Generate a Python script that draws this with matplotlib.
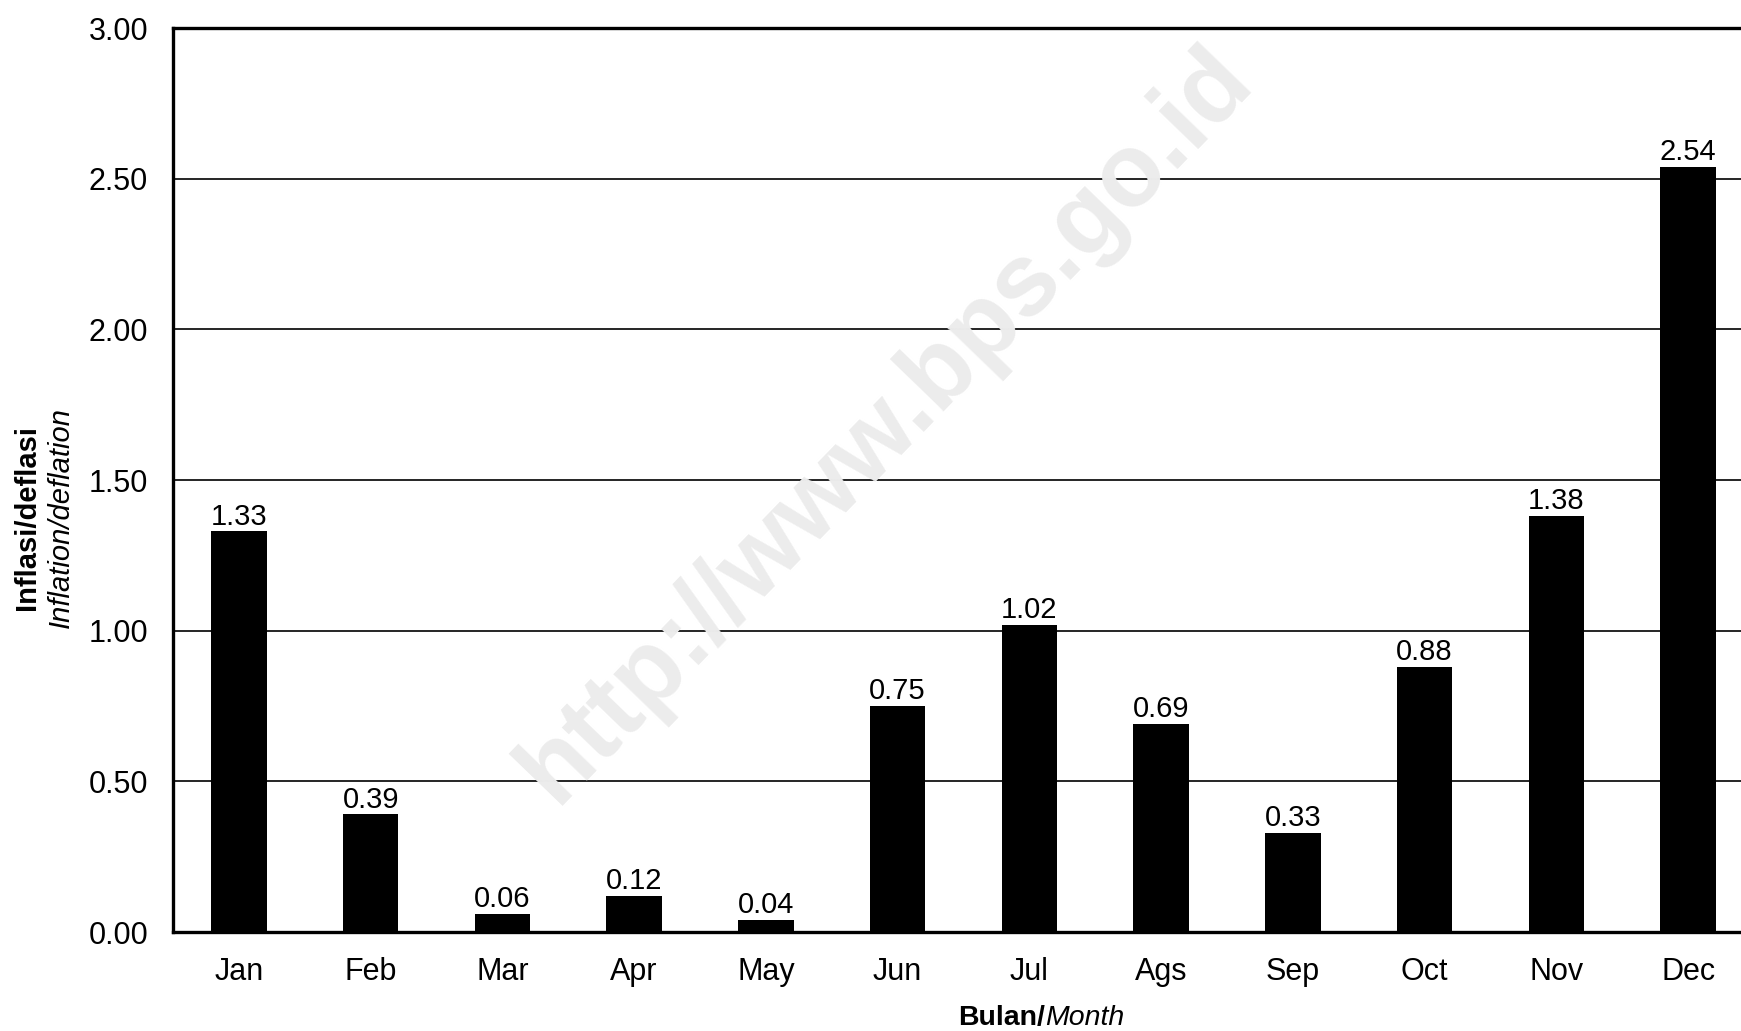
import matplotlib
matplotlib.use('Agg')
import matplotlib.pyplot as plt

plt.rcParams['font.family'] = ['Liberation Sans', 'DejaVu Sans']

months = ['Jan', 'Feb', 'Mar', 'Apr', 'May', 'Jun', 'Jul', 'Ags', 'Sep', 'Oct', 'Nov', 'Dec']
inflation = [1.33, 0.39, 0.06, 0.12, 0.04, 0.75, 1.02, 0.69, 0.33, 0.88, 1.38, 2.54]
yticks = [0.0, 0.5, 1.0, 1.5, 2.0, 2.5, 3.0]

W, H = 1741, 1031
fig = plt.figure(figsize=(W / 100, H / 100), dpi=100)
ax = fig.add_axes([173 / W, 1 - 932 / H, 1581 / W, 904 / H])

x = range(len(months))
ax.bar(x, inflation, width=0.42, color='black', zorder=3)
for i, v in zip(x, inflation):
    ax.annotate(f'{v:.2f}', (i, v), xytext=(0, 0.5), textcoords='offset points',
                ha='center', va='bottom', fontsize=21, zorder=4)

ax.set_xlim(-0.5, len(months) - 0.5)
ax.set_ylim(0, 3)
ax.set_yticks(yticks)
ax.set_yticklabels([f'{t:.2f}' for t in yticks], fontsize=22)
ax.set_xticks(list(x))
ax.set_xticklabels(months, fontsize=22)
ax.tick_params(axis='both', length=0)
ax.tick_params(axis='y', pad=18)
ax.tick_params(axis='x', pad=18)

ax.yaxis.grid(True, color='black', linewidth=1.2, zorder=1)
ax.set_axisbelow(True)
for side in ['left', 'bottom', 'top']:
    ax.spines[side].set_linewidth(2.4)
    ax.spines[side].set_zorder(5)
ax.spines['right'].set_visible(False)

# watermark
fig.text(887 / W, 1 - 425 / H, 'http://www.bps.go.id', fontsize=74, fontweight='bold',
         color='#ececec', rotation=46, ha='center', va='center', zorder=0.5)
ax.patch.set_alpha(0)

# axis titles
fig.text(27 / W, 1 - 517 / H, 'Inflasi/deflasi', rotation=90, fontsize=21,
         fontweight='bold', ha='center', va='center')
fig.text(61 / W, 1 - 517 / H, 'Inflation/deflation', rotation=90, fontsize=21,
         style='italic', ha='center', va='center')
fig.text(1045 / W, 1 - 1018 / H, 'Bulan/', fontsize=20.5, fontweight='bold',
         ha='right', va='center')
fig.text(1045 / W, 1 - 1018 / H, 'Month', fontsize=20.5, style='italic',
         ha='left', va='center')

fig.savefig('out.png', dpi=100)
